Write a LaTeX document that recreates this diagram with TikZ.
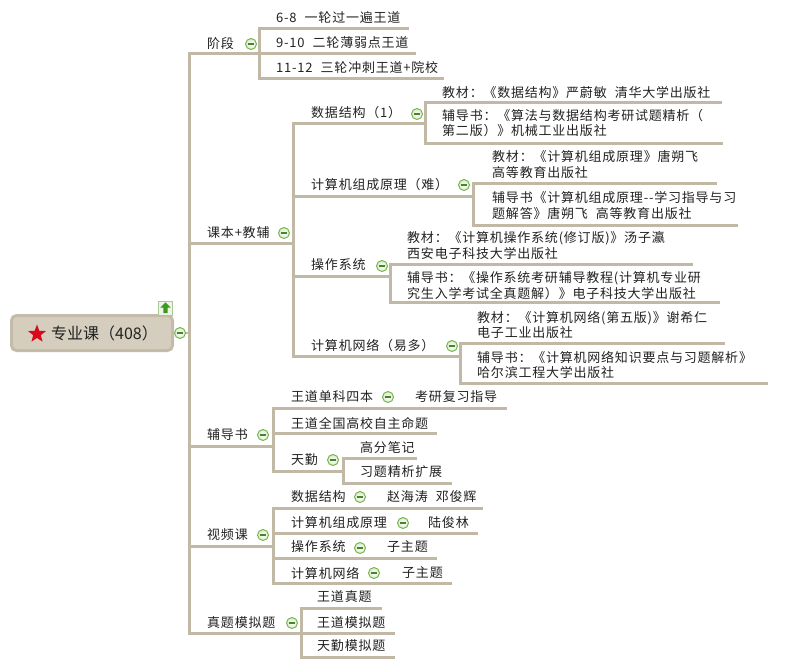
\documentclass[tikz,border=0pt]{standalone}
\usepackage{fontspec}
\newfontfamily\cjk[LetterSpace=6]{Noto Sans CJK SC}
\newfontfamily\cjkroot{Noto Sans CJK SC}
\usetikzlibrary{shapes.geometric}
\newcommand\gap{\hspace{8pt}}
\definecolor{textc}{HTML}{222222}
\definecolor{linec}{HTML}{C1B9A6}
\definecolor{colg}{HTML}{72B248}
\definecolor{colf}{HTML}{D6ECC6}
\definecolor{colm}{HTML}{4E7F36}
\definecolor{rootfill}{HTML}{D5CEBF}
\definecolor{rootdraw}{HTML}{C4BCA8}
\definecolor{starred}{HTML}{D9091B}
\definecolor{iconbg}{HTML}{EEF5E8}
\definecolor{iconbd}{HTML}{A8C898}
\definecolor{icong}{HTML}{3C9A1C}
\begin{document}
\begin{tikzpicture}[x=1pt,y=-1pt,
  ln/.style={draw=linec,line width=3pt},
  vln/.style={ln,line cap=rect},
  txt/.style={anchor=west,inner sep=0pt,text=textc,align=left,
    font=\cjk\fontsize{13pt}{15.3pt}\selectfont},
  col/.style={circle,minimum size=11pt,inner sep=0pt,draw=colg,line width=0.9pt,
    inner color=white,outer color=colf,
    path picture={\draw[colm,line width=1.1pt]
      ([xshift=-3pt]path picture bounding box.center) --
      ([xshift=3pt]path picture bounding box.center);}},
  rootbox/.style={rectangle,rounded corners=5pt,fill=rootfill,draw=rootdraw,
    line width=3pt,minimum width=161pt,minimum height=35pt,inner sep=0pt}]
\fill[white] (0,0) rectangle (800,671);
\useasboundingbox (0,0) rectangle (800,671);

% ---------- tree lines ----------
\draw[vln] (189,54) -- (189,633);
% 阶段
\draw[ln] (189,54) -- (416,54);
\draw[vln] (259,29) -- (259,79);
\draw[ln] (259,29) -- (409,29);
\draw[ln] (259,79) -- (444,79);
% 课本+教辅
\draw[ln] (189,243) -- (293,243);
\draw[vln] (293,124) -- (293,356);
\draw[ln] (293,124) -- (425,124);
\draw[vln] (425,103) -- (425,144);
\draw[ln] (425,103) -- (722,103);
\draw[ln] (425,144) -- (723,144);
\draw[ln] (293,197) -- (473,197);
\draw[vln] (473,184) -- (473,225);
\draw[ln] (473,184) -- (717,184);
\draw[ln] (473,225) -- (738,225);
\draw[ln] (293,276) -- (390,276);
\draw[vln] (390,264) -- (390,302);
\draw[ln] (390,264) -- (693,264);
\draw[ln] (390,302) -- (720,302);
\draw[ln] (293,356) -- (460,356);
\draw[vln] (460,343) -- (460,383);
\draw[ln] (460,343) -- (725,343);
\draw[ln] (460,383) -- (768,383);
% 辅导书
\draw[ln] (189,446) -- (273,446);
\draw[vln] (273,408) -- (273,471);
\draw[ln] (273,408) -- (507,408);
\draw[ln] (273,433) -- (437,433);
\draw[ln] (273,471) -- (343,471);
\draw[vln] (343,458) -- (343,483);
\draw[ln] (343,458) -- (417,458);
\draw[ln] (343,483) -- (452,483);
% 视频课
\draw[ln] (189,546) -- (273,546);
\draw[vln] (273,508) -- (273,583);
\draw[ln] (273,508) -- (483,508);
\draw[ln] (273,533) -- (478,533);
\draw[ln] (273,558) -- (437,558);
\draw[ln] (273,583) -- (452,583);
% 真题模拟题
\draw[ln] (189,633) -- (395,633);
\draw[vln] (301,608) -- (301,657);
\draw[ln] (301,608) -- (382,608);
\draw[ln] (301,657) -- (395,657);

% ---------- root ----------
\node[rootbox] (root) at (92,333) {};
\node[star,star points=5,star point ratio=2.4,fill=starred,inner sep=0pt,minimum size=19pt] (st) at (37,334) {};
\node[anchor=west,inner sep=0pt,text=textc,font=\cjkroot\fontsize{16pt}{18pt}\selectfont] (rt) at (51,333) {专业课（408）};
\node[col] (c0) at (180,333) {};
\draw[ln,line width=2pt] (c0) -- (189,333);
\node[rectangle,draw=iconbd,fill=iconbg,line width=0.8pt,minimum size=14pt,inner sep=0pt] (icon) at (165.5,308) {};
\fill[icong] (165.5,302.3) -- (170.6,307.6) -- (167.6,307.6) -- (167.6,313) -- (163.4,313) -- (163.4,307.6) -- (160.4,307.6) -- cycle;

% ---------- 阶段 ----------
\node[txt] (jd) at (207,44) {阶段};
\node[col] (cjd) at (251,44) {};
\node[txt] (s1) at (276,18) {6-8\gap 一轮过一遍王道};
\node[txt] (s2) at (276,43) {9-10\gap 二轮薄弱点王道};
\node[txt] (s3) at (276,68) {11-12\gap 三轮冲刺王道+院校};

% ---------- 课本+教辅 ----------
\node[txt] (kb) at (207,233) {课本+教辅};
\node[col] (ckb) at (284,233) {};
\node[txt] (ds) at (311,113) {数据结构（1）};
\node[col] (cds) at (417,114) {};
\node[txt] (ds1) at (442,93) {教材：《数据结构》严蔚敏\gap 清华大学出版社};
\node[txt] (ds2) at (442,123) {辅导书：《算法与数据结构考研试题精析（\\第二版）》机械工业出版社};
\node[txt] (zc) at (311,185) {计算机组成原理（难）};
\node[col] (czc) at (464,185) {};
\node[txt] (zc1) at (492,164.5) {教材：《计算机组成原理》唐朔飞\\高等教育出版社};
\node[txt] (zc2) at (492,205.5) {辅导书《计算机组成原理-{}-学习指导与习\\题解答》唐朔飞\gap 高等教育出版社};
\node[txt] (os) at (311,265) {操作系统};
\node[col] (cos) at (382,266) {};
\node[txt] (os1) at (407,245.5) {教材：《计算机操作系统(修订版)》汤子瀛\\西安电子科技大学出版社};
\node[txt] (os2) at (407,285.5) {辅导书：《操作系统考研辅导教程(计算机专业研\\究生入学考试全真题解）》电子科技大学出版社};
\node[txt] (nw) at (311,346) {计算机网络（易多）};
\node[col] (cnw) at (452,346) {};
\node[txt] (nw1) at (477,325) {教材：《计算机网络(第五版)》谢希仁\\电子工业出版社};
\node[txt] (nw2) at (477,365) {辅导书：《计算机网络知识要点与习题解析》\\哈尔滨工程大学出版社};

% ---------- 辅导书 ----------
\node[txt] (fd) at (207,435) {辅导书};
\node[col] (cfd) at (263,435) {};
\node[txt] (wd) at (291,397) {王道单科四本};
\node[col] (cwd) at (388,397) {};
\node[txt] (wd1) at (415,397) {考研复习指导};
\node[txt] (wq) at (291,423) {王道全国高校自主命题};
\node[txt] (tq) at (291,460) {天勤};
\node[col] (ctq) at (333,460) {};
\node[txt] (tq1) at (360,448) {高分笔记};
\node[txt] (tq2) at (360,472) {习题精析扩展};

% ---------- 视频课 ----------
\node[txt] (sp) at (207,535) {视频课};
\node[col] (csp) at (263,535) {};
\node[txt] (v1) at (291,497) {数据结构};
\node[col] (cv1) at (360,497) {};
\node[txt] (v1a) at (387,497) {赵海涛\gap 邓俊辉};
\node[txt] (v2) at (291,523) {计算机组成原理};
\node[col] (cv2) at (403,523) {};
\node[txt] (v2a) at (428,523) {陆俊林};
\node[txt] (v3) at (291,547) {操作系统};
\node[col] (cv3) at (360,548) {};
\node[txt] (v3a) at (387,547) {子主题};
\node[txt] (v4) at (291,573) {计算机网络};
\node[col] (cv4) at (374,573) {};
\node[txt] (v4a) at (402,573) {子主题};

% ---------- 真题模拟题 ----------
\node[txt] (zt) at (207,623) {真题模拟题};
\node[col] (czt) at (292,623) {};
\node[txt] (zt1) at (317,597) {王道真题};
\node[txt] (zt2) at (317,623) {王道模拟题};
\node[txt] (zt3) at (317,646) {天勤模拟题};
\end{tikzpicture}
\end{document}
